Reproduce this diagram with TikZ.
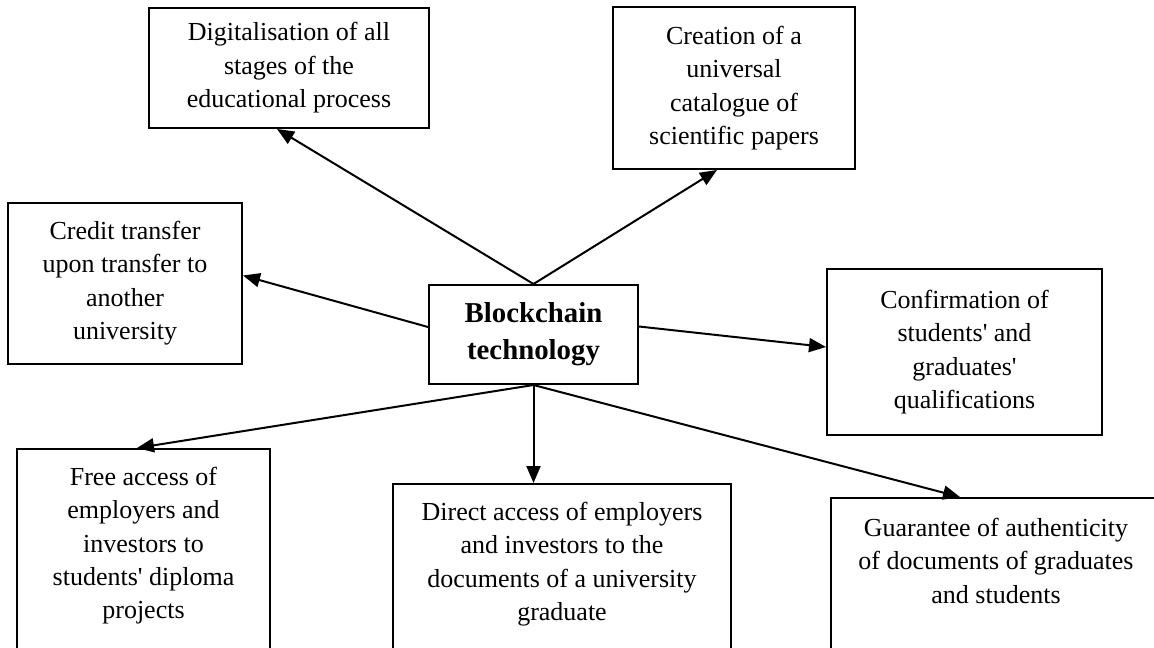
\documentclass[tikz,border=0pt]{standalone}
\usepackage{fontspec}
\setmainfont{Liberation Serif}
\usetikzlibrary{arrows.meta}

\begin{document}
\begin{tikzpicture} [x=0.5pt, y=-0.5pt,
		box/.style={draw, line width=1pt, align=center, inner sep=0pt, font=\fontsize{13}{16.7}\selectfont},
		cutbox/.style={box, anchor=north, inner ysep=9pt, text depth=110pt},
		arr/.style={line width=1pt, -{Triangle[length=8.5pt, width=7pt]}}]

			\useasboundingbox (0,0) rectangle (1154,647);
			\clip (0,0) rectangle (1154,647);

			\node [box, minimum width=104.5pt, minimum height=49.5pt, font=\fontsize{14.4}{18.5}\selectfont\bfseries] (core) at (533.5,334.5) {Blockchain\\ technology};

			\node [box, minimum width=140pt, minimum height=60pt] (digit) at (289,68) {Digitalisation of all\\ stages of the\\ educational process};
			\node [box, minimum width=121pt, minimum height=81pt] (creation) at (734,88) {Creation of a\\ universal\\ catalogue of\\ scientific papers};
			\node [box, minimum width=117pt, minimum height=80.5pt] (credit) at (125,283) {Credit transfer\\ upon transfer to\\ another\\ university};
			\node [box, minimum width=137.5pt, minimum height=83pt] (confirm) at (964.5,352) {Confirmation of\\ students\textquotesingle{} and\\ graduates\textquotesingle\\ qualifications};

			% the lower boxes run past the bottom edge
			\node [cutbox, minimum width=126.5pt] (free) at (143.5,448) {Free access of\\ employers and\\ investors to\\ students\textquotesingle{} diploma\\ projects};
			\node [cutbox, minimum width=169pt] (direct) at (562,483) {Direct access of employers\\ and investors to the\\ documents of a university\\ graduate};
			\node [cutbox, minimum width=165pt, inner ysep=10pt] (guar) at (996,497) {Guarantee of authenticity\\ of documents of graduates\\ and students};

			\draw [arr] (core.north) -- ([xshift=-6pt]digit.south);
			\draw [arr] (core.north) -- ([xshift=-8.5pt]creation.south);
			\draw [arr] ([yshift=3.75pt]core.west) -- ([yshift=3.75pt]credit.east);
			\draw [arr] ([yshift=4pt]core.east) -- ([yshift=2.5pt]confirm.west);

			\draw [arr] (core.south) -- ([xshift=-3.25pt]free.north);
			\draw [arr] (core.south) -- (core.south |- direct.north);
			\draw [arr] (core.south) -- ([xshift=-18pt]guar.north);
		\end{tikzpicture}
\end{document}
